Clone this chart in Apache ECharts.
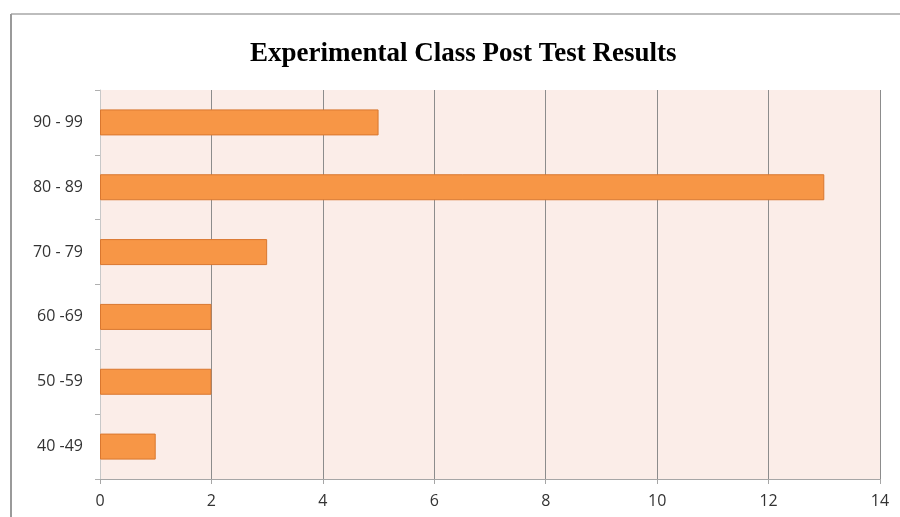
<!DOCTYPE html>
<html>
<head>
<meta charset="utf-8">
<script src="https://cdn.jsdelivr.net/npm/echarts@6/dist/echarts.min.js"></script>
<style>
  html, body { margin: 0; padding: 0; background: #fff; }
  #chart { width: 900px; height: 517px; }
</style>
</head>
<body>
<div id="chart"></div>
<script>
// score ranges, bottom to top
var ranges = ['40 -49', '50 -59', '60 -69', '70 - 79', '80 - 89', '90 - 99'];
var students = [1, 2, 2, 3, 13, 5];
var xTicks = [0, 2, 4, 6, 8, 10, 12, 14];

(function(){
    var chart = echarts.init(document.getElementById('chart'));

    var option = {
        backgroundColor: '#fff',
        title: {
            text: 'Experimental Class Post Test Results',
            left: 245,
            top: 36,
            textStyle: {
                fontFamily: 'Liberation Serif',
                fontWeight: 'bold',
                fontSize: 27,
                color: '#000'
            }
        },
        graphic: [
            { type: 'line', shape: { x1: 11, y1: 14, x2: 900, y2: 14 }, style: { stroke: '#bdbdbd', lineWidth: 2 } },
            { type: 'line', shape: { x1: 11, y1: 14, x2: 11, y2: 517 }, style: { stroke: '#9a9a9a', lineWidth: 2 } }
        ],
        grid: {
            left: 100,
            right: 20,
            top: 90,
            bottom: 38,
            show: true,
            backgroundColor: '#FBEDE8',
            borderWidth: 0
        },
        xAxis: {
            type: 'value',
            min: 0,
            max: 14,
            interval: 2,
            axisLine: { show: true, lineStyle: { color: '#a6a6a6', width: 1 } },
            axisTick: { show: true, length: 5, lineStyle: { color: '#a6a6a6' } },
            splitLine: { show: true, lineStyle: { color: '#8c8c8c', width: 1 } },
            axisLabel: {
                margin: 14,
                fontFamily: 'Open Sans',
                fontSize: 16,
                color: '#333',
                formatter: function (v) { return xTicks.indexOf(v) >= 0 ? String(v) : ''; }
            }
        },
        yAxis: {
            type: 'category',
            data: ranges,
            axisLine: { show: true, lineStyle: { color: '#c8c8c8', width: 1 } },
            axisTick: { show: true, length: 5, lineStyle: { color: '#b0b0b0' } },
            axisLabel: {
                margin: 17,
                fontFamily: 'Open Sans',
                fontSize: 16,
                color: '#333'
            }
        },
        series: [
            {
                type: 'bar',
                data: students,
                barWidth: 26,
                itemStyle: {
                    color: '#F79646',
                    borderColor: '#D9772F',
                    borderWidth: 1
                }
            }
        ]
    };

    chart.setOption(option);
})();
</script>
</body>
</html>
